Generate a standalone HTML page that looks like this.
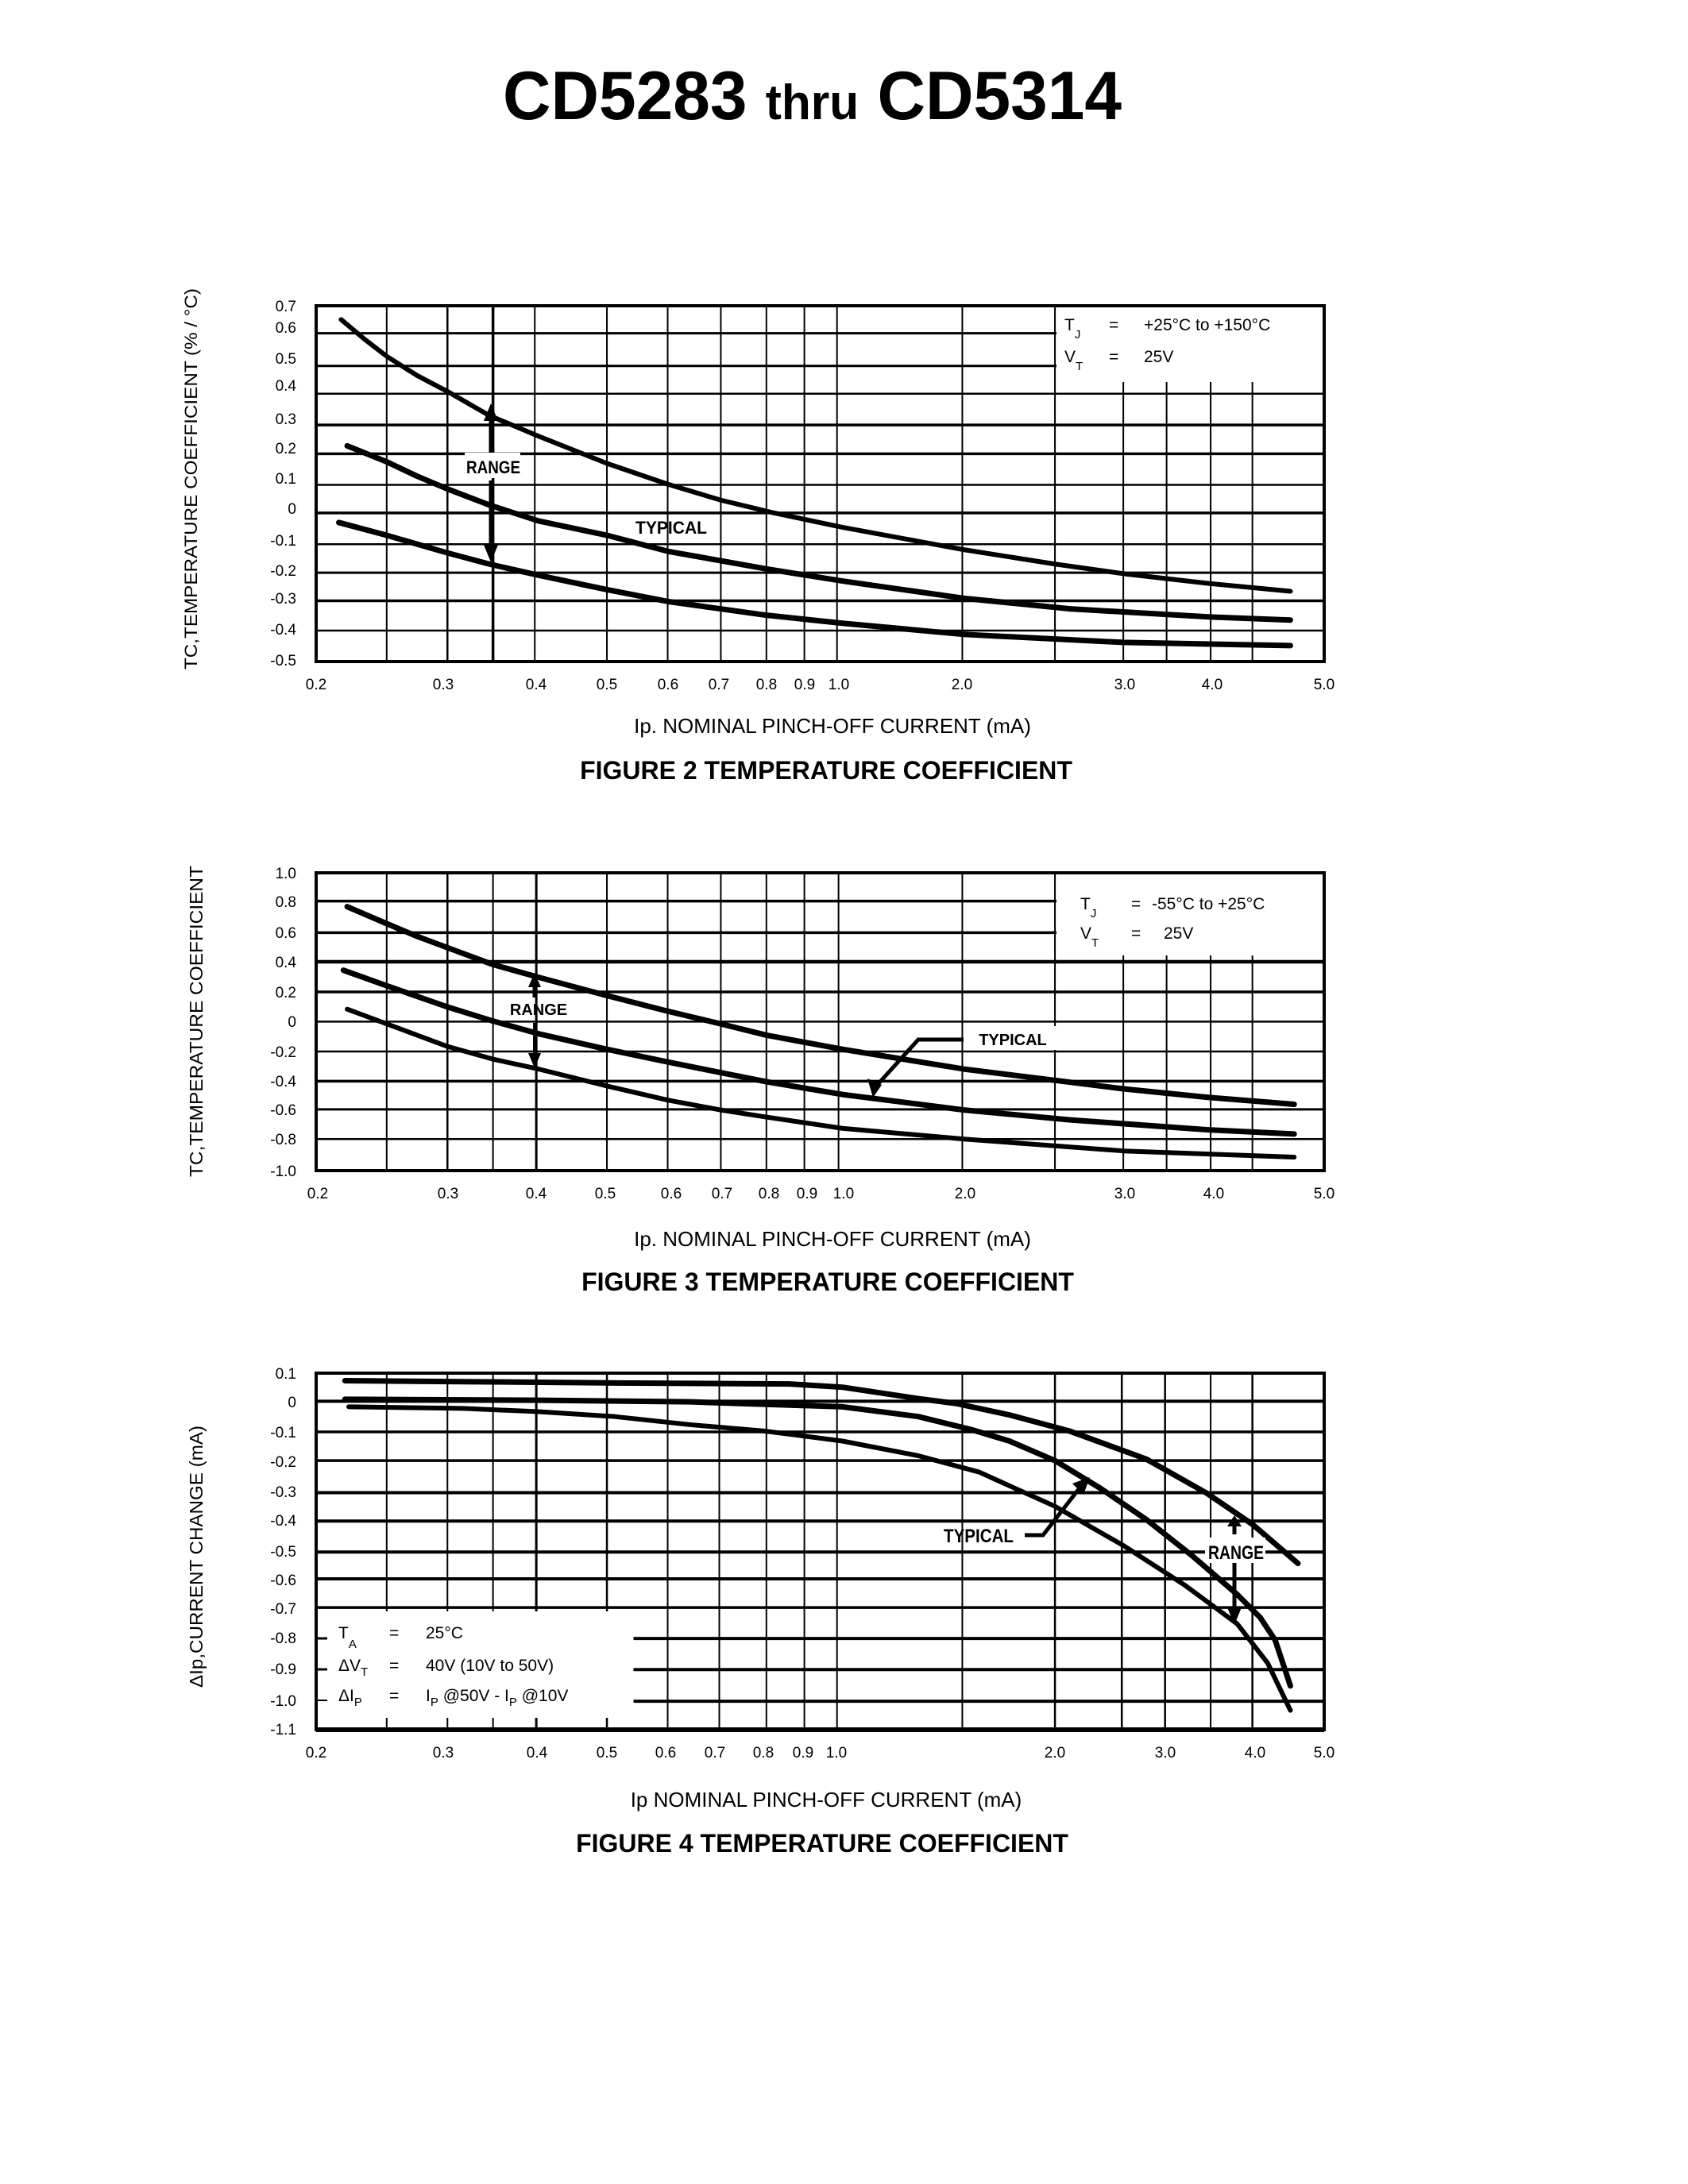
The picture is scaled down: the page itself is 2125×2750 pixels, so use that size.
<!DOCTYPE html>
<html><head><meta charset="utf-8"><style>
html,body{margin:0;padding:0;background:#fff}
svg{display:block}
text{font-family:"Liberation Sans",sans-serif;fill:#000}
.tk{font-size:19px}
.yl{font-size:19px;text-anchor:end}
.lg{font-size:21px}
.sb{font-size:15px}
.ann{font-size:22px;font-weight:bold}
.cap{font-size:32px;font-weight:bold;text-anchor:middle}
.xt{font-size:26px;text-anchor:middle}
.g line{stroke:#000;vector-effect:non-scaling-stroke}
.c{fill:none;stroke:#000;stroke-linejoin:round;stroke-linecap:round;vector-effect:non-scaling-stroke}
</style></head><body>
<svg width="2125" height="2750" viewBox="0 0 2125 2750" xmlns="http://www.w3.org/2000/svg">
<rect width="2125" height="2750" fill="#fff"/>
<text x="633" y="150" style="font-size:86px;font-weight:bold" textLength="779" lengthAdjust="spacingAndGlyphs">CD5283 <tspan style="font-size:62px">thru</tspan> CD5314</text>

<!-- FIGURE 2 -->
<g class="g" transform="translate(200,346) scale(0.956,0.4025)">
 <line x1="207" y1="183" x2="1535" y2="183" stroke-width="3"/>
 <line x1="207" y1="285" x2="1535" y2="285" stroke-width="3"/>
 <line x1="207" y1="372" x2="1535" y2="372" stroke-width="2.5"/>
 <line x1="207" y1="470" x2="1535" y2="470" stroke-width="3.5"/>
 <line x1="207" y1="560" x2="1535" y2="560" stroke-width="3.5"/>
 <line x1="207" y1="657" x2="1535" y2="657" stroke-width="2.5"/>
 <line x1="207" y1="745" x2="1535" y2="745" stroke-width="3.5"/>
 <line x1="207" y1="843" x2="1535" y2="843" stroke-width="2.5"/>
 <line x1="207" y1="932" x2="1535" y2="932" stroke-width="3"/>
 <line x1="207" y1="1020" x2="1535" y2="1020" stroke-width="3.5"/>
 <line x1="207" y1="1113" x2="1535" y2="1113" stroke-width="2.5"/>
 <line x1="300" y1="97" x2="300" y2="1210" stroke-width="2"/>
 <line x1="380" y1="97" x2="380" y2="1210" stroke-width="2.5"/>
 <line x1="440" y1="97" x2="440" y2="1210" stroke-width="3.5"/>
 <line x1="495" y1="97" x2="495" y2="1210" stroke-width="2"/>
 <line x1="590" y1="97" x2="590" y2="1210" stroke-width="2"/>
 <line x1="670" y1="97" x2="670" y2="1210" stroke-width="2"/>
 <line x1="740" y1="97" x2="740" y2="1210" stroke-width="2"/>
 <line x1="800" y1="97" x2="800" y2="1210" stroke-width="2"/>
 <line x1="850" y1="97" x2="850" y2="1210" stroke-width="2"/>
 <line x1="893" y1="97" x2="893" y2="1210" stroke-width="2"/>
 <line x1="1058" y1="97" x2="1058" y2="1210" stroke-width="2"/>
 <line x1="1180" y1="97" x2="1180" y2="1210" stroke-width="2"/>
 <line x1="1270" y1="97" x2="1270" y2="1210" stroke-width="2"/>
 <line x1="1327" y1="97" x2="1327" y2="1210" stroke-width="2"/>
 <line x1="1385" y1="97" x2="1385" y2="1210" stroke-width="2"/>
 <line x1="1440" y1="97" x2="1440" y2="1210" stroke-width="2"/>
</g>
<rect x="1330" y="387" width="335" height="94" fill="#fff"/>
<rect x="398" y="385" width="1269" height="448" fill="none" stroke="#000" stroke-width="4"/>
<g transform="translate(200,346) scale(0.956,0.4025)">
 <polyline class="c" stroke-width="6" points="240,140 270,200 300,255 340,315 380,365 435,440 500,505 590,590 670,655 740,705 810,745 900,790 1060,860 1180,905 1270,935 1380,965 1490,990"/>
 <polyline class="c" stroke-width="7" points="248,535 300,585 340,630 380,670 435,720 500,770 590,815 670,865 800,920 900,958 1060,1012 1200,1045 1380,1070 1490,1080"/>
 <polyline class="c" stroke-width="7" points="237,775 300,815 380,870 435,905 500,940 590,985 670,1022 800,1065 900,1090 1060,1125 1270,1150 1490,1160"/>
</g>
<line x1="618" y1="525" x2="618" y2="570" stroke="#000" stroke-width="5"/>
<polygon points="618,508 609,530 627,530" fill="#000"/>
<line x1="618" y1="605" x2="618" y2="690" stroke="#000" stroke-width="5"/>
<polygon points="618,708 609,686 627,686" fill="#000"/>
<rect x="585" y="570" width="70" height="32" fill="#fff"/>
<text class="ann" x="621" y="596" text-anchor="middle" textLength="68" lengthAdjust="spacingAndGlyphs">RANGE</text>
<text class="ann" x="845" y="672" text-anchor="middle" textLength="90" lengthAdjust="spacingAndGlyphs">TYPICAL</text>
<text class="lg" x="1340" y="416">T<tspan class="sb" dy="10">J</tspan><tspan dy="-10" x="1396">=</tspan><tspan x="1440">+25°C  to  +150°C</tspan></text>
<text class="lg" x="1340" y="456">V<tspan class="sb" dy="10">T</tspan><tspan dy="-10" x="1396">=</tspan><tspan x="1440">25V</tspan></text>
<g class="yl">
<text class="yl" x="373" y="392">0.7</text><text class="yl" x="373" y="419">0.6</text><text class="yl" x="373" y="458">0.5</text><text class="yl" x="373" y="492">0.4</text><text class="yl" x="373" y="534">0.3</text><text class="yl" x="373" y="571">0.2</text><text class="yl" x="373" y="609">0.1</text><text class="yl" x="373" y="647">0</text><text class="yl" x="373" y="687">-0.1</text><text class="yl" x="373" y="725">-0.2</text><text class="yl" x="373" y="760">-0.3</text><text class="yl" x="373" y="799">-0.4</text><text class="yl" x="373" y="838">-0.5</text>
</g>
<g class="tk" text-anchor="middle">
<text x="398" y="868">0.2</text><text x="558" y="868">0.3</text><text x="675" y="868">0.4</text><text x="764" y="868">0.5</text><text x="841" y="868">0.6</text><text x="905" y="868">0.7</text><text x="965" y="868">0.8</text><text x="1013" y="868">0.9</text><text x="1056" y="868">1.0</text><text x="1211" y="868">2.0</text><text x="1416" y="868">3.0</text><text x="1526" y="868">4.0</text><text x="1667" y="868">5.0</text>
</g>
<text transform="translate(248,603) rotate(-90)" text-anchor="middle" style="font-size:22px" textLength="480" lengthAdjust="spacingAndGlyphs">TC,TEMPERATURE COEFFICIENT (% / °C)</text>
<text class="xt" x="1048" y="923">Ip. NOMINAL PINCH-OFF CURRENT (mA)</text>
<text class="cap" x="1040" y="981">FIGURE 2 TEMPERATURE COEFFICIENT</text>

<!-- FIGURE 3 -->
<g class="g" transform="translate(200,1061.7) scale(0.956,0.3555)">
 <line x1="207" y1="205" x2="1535" y2="205" stroke-width="3.5"/>
 <line x1="207" y1="317" x2="1535" y2="317" stroke-width="3.5"/>
 <line x1="207" y1="420" x2="1535" y2="420" stroke-width="4.5"/>
 <line x1="207" y1="527" x2="1535" y2="527" stroke-width="3.5"/>
 <line x1="207" y1="632" x2="1535" y2="632" stroke-width="2.5"/>
 <line x1="207" y1="738" x2="1535" y2="738" stroke-width="2.5"/>
 <line x1="207" y1="843" x2="1535" y2="843" stroke-width="3.5"/>
 <line x1="207" y1="943" x2="1535" y2="943" stroke-width="3"/>
 <line x1="207" y1="1048" x2="1535" y2="1048" stroke-width="2.5"/>
 <line x1="300" y1="105" x2="300" y2="1160" stroke-width="2"/>
 <line x1="380" y1="105" x2="380" y2="1160" stroke-width="2.5"/>
 <line x1="440" y1="105" x2="440" y2="1160" stroke-width="2"/>
 <line x1="497" y1="105" x2="497" y2="1160" stroke-width="3"/>
 <line x1="590" y1="105" x2="590" y2="1160" stroke-width="2"/>
 <line x1="670" y1="105" x2="670" y2="1160" stroke-width="2"/>
 <line x1="740" y1="105" x2="740" y2="1160" stroke-width="2"/>
 <line x1="800" y1="105" x2="800" y2="1160" stroke-width="2"/>
 <line x1="850" y1="105" x2="850" y2="1160" stroke-width="2"/>
 <line x1="895" y1="105" x2="895" y2="1160" stroke-width="2"/>
 <line x1="1058" y1="105" x2="1058" y2="1160" stroke-width="2"/>
 <line x1="1180" y1="105" x2="1180" y2="1160" stroke-width="2"/>
 <line x1="1270" y1="105" x2="1270" y2="1160" stroke-width="2"/>
 <line x1="1327" y1="105" x2="1327" y2="1160" stroke-width="2"/>
 <line x1="1385" y1="105" x2="1385" y2="1160" stroke-width="2"/>
 <line x1="1440" y1="105" x2="1440" y2="1160" stroke-width="2"/>
</g>
<rect x="1330" y="1101" width="335" height="102" fill="#fff"/>
<rect x="398" y="1099" width="1269" height="375" fill="none" stroke="#000" stroke-width="4"/>
<g transform="translate(200,1061.7) scale(0.956,0.3555)">
 <polyline class="c" stroke-width="7" points="248,225 300,285 340,330 380,370 440,430 500,475 590,540 670,595 740,640 800,680 900,730 1060,800 1180,840 1270,870 1380,900 1495,925"/>
 <polyline class="c" stroke-width="7" points="243,450 300,505 380,580 440,630 500,675 590,730 670,775 800,845 900,890 1060,945 1200,980 1380,1015 1495,1030"/>
 <polyline class="c" stroke-width="6" points="248,588 300,640 380,720 440,765 500,800 590,860 670,910 740,945 800,970 900,1010 1060,1048 1270,1090 1495,1112"/>
</g>
<line x1="673" y1="1238" x2="673" y2="1256" stroke="#000" stroke-width="5"/>
<polygon points="673,1225 665,1243 681,1243" fill="#000"/>
<line x1="673" y1="1288" x2="673" y2="1330" stroke="#000" stroke-width="4"/>
<polygon points="673,1345 665,1326 681,1326" fill="#000"/>
<text x="678" y="1278" text-anchor="middle" style="font-size:20px;font-weight:bold">RANGE</text>
<polyline points="1213,1309 1156,1309 1099,1372" fill="none" stroke="#000" stroke-width="5"/>
<polygon points="1099,1382 1092,1358 1110,1366" fill="#000"/>
<rect x="1218" y="1292" width="112" height="30" fill="#fff"/>
<text x="1275" y="1316" text-anchor="middle" style="font-size:20px;font-weight:bold">TYPICAL</text>
<text class="lg" x="1360" y="1145">T<tspan class="sb" dy="10">J</tspan><tspan dy="-10" x="1424">=</tspan><tspan x="1450">-55°C  to  +25°C</tspan></text>
<text class="lg" x="1360" y="1182">V<tspan class="sb" dy="10">T</tspan><tspan dy="-10" x="1424">=</tspan><tspan x="1465">25V</tspan></text>
<g>
<text class="yl" x="373" y="1106">1.0</text><text class="yl" x="373" y="1142">0.8</text><text class="yl" x="373" y="1181">0.6</text><text class="yl" x="373" y="1218">0.4</text><text class="yl" x="373" y="1256">0.2</text><text class="yl" x="373" y="1293">0</text><text class="yl" x="373" y="1331">-0.2</text><text class="yl" x="373" y="1368">-0.4</text><text class="yl" x="373" y="1404">-0.6</text><text class="yl" x="373" y="1441">-0.8</text><text class="yl" x="373" y="1481">-1.0</text>
</g>
<g class="tk" text-anchor="middle">
<text x="400" y="1509">0.2</text><text x="564" y="1509">0.3</text><text x="675" y="1509">0.4</text><text x="762" y="1509">0.5</text><text x="845" y="1509">0.6</text><text x="909" y="1509">0.7</text><text x="968" y="1509">0.8</text><text x="1016" y="1509">0.9</text><text x="1062" y="1509">1.0</text><text x="1215" y="1509">2.0</text><text x="1416" y="1509">3.0</text><text x="1528" y="1509">4.0</text><text x="1667" y="1509">5.0</text>
</g>
<text transform="translate(255,1286) rotate(-90)" text-anchor="middle" style="font-size:23px" textLength="392" lengthAdjust="spacingAndGlyphs">TC,TEMPERATURE COEFFICIENT</text>
<text class="xt" x="1048" y="1569">Ip. NOMINAL PINCH-OFF CURRENT (mA)</text>
<text class="cap" x="1042" y="1625">FIGURE 3 TEMPERATURE COEFFICIENT</text>

<!-- FIGURE 4 -->
<g class="g" transform="translate(200,1691.2) scale(0.956,0.411)">
 <line x1="207" y1="178" x2="1535" y2="178" stroke-width="4"/>
 <line x1="207" y1="272" x2="1535" y2="272" stroke-width="3.5"/>
 <line x1="207" y1="360" x2="1535" y2="360" stroke-width="3.5"/>
 <line x1="207" y1="458" x2="1535" y2="458" stroke-width="4"/>
 <line x1="207" y1="545" x2="1535" y2="545" stroke-width="4"/>
 <line x1="207" y1="640" x2="1535" y2="640" stroke-width="4"/>
 <line x1="207" y1="722" x2="1535" y2="722" stroke-width="4"/>
 <line x1="207" y1="810" x2="1535" y2="810" stroke-width="3.5"/>
 <line x1="625" y1="905" x2="1535" y2="905" stroke-width="4"/>
 <line x1="625" y1="1000" x2="1535" y2="1000" stroke-width="4"/>
 <line x1="625" y1="1097" x2="1535" y2="1097" stroke-width="4"/>
 <line x1="300" y1="92" x2="300" y2="1185" stroke-width="2"/>
 <line x1="380" y1="92" x2="380" y2="1185" stroke-width="2"/>
 <line x1="440" y1="92" x2="440" y2="1185" stroke-width="2"/>
 <line x1="497" y1="92" x2="497" y2="1185" stroke-width="3"/>
 <line x1="590" y1="92" x2="590" y2="1185" stroke-width="2.5"/>
 <line x1="670" y1="92" x2="670" y2="1185" stroke-width="2"/>
 <line x1="738" y1="92" x2="738" y2="1185" stroke-width="2"/>
 <line x1="800" y1="92" x2="800" y2="1185" stroke-width="2"/>
 <line x1="850" y1="92" x2="850" y2="1185" stroke-width="2"/>
 <line x1="893" y1="92" x2="893" y2="1185" stroke-width="2"/>
 <line x1="1058" y1="92" x2="1058" y2="1185" stroke-width="2"/>
 <line x1="1180" y1="92" x2="1180" y2="1185" stroke-width="2.5"/>
 <line x1="1268" y1="92" x2="1268" y2="1185" stroke-width="2.5"/>
 <line x1="1325" y1="92" x2="1325" y2="1185" stroke-width="2.5"/>
 <line x1="1385" y1="92" x2="1385" y2="1185" stroke-width="2"/>
 <line x1="1440" y1="92" x2="1440" y2="1185" stroke-width="2.5"/>
</g>
<rect x="400" y="2029" width="394" height="134" fill="#fff"/>
<line x1="398" y1="2063" x2="412" y2="2063" stroke="#000" stroke-width="3"/>
<line x1="398" y1="2102" x2="412" y2="2102" stroke="#000" stroke-width="3"/>
<line x1="398" y1="2141" x2="412" y2="2141" stroke="#000" stroke-width="2"/>
<rect x="398" y="1729" width="1269" height="449" fill="none" stroke="#000" stroke-width="4"/>
<line x1="398" y1="2178" x2="1667" y2="2178" stroke="#000" stroke-width="6"/>
<g transform="translate(200,1691.2) scale(0.956,0.411)">
 <polyline class="c" stroke-width="7" points="245,115 400,118 600,122 830,125 900,135 1000,170 1050,185 1120,220 1200,270 1300,355 1380,460 1440,555 1500,675"/>
 <polyline class="c" stroke-width="7" points="245,172 500,175 700,180 900,195 1000,225 1070,265 1120,300 1180,360 1240,445 1300,540 1360,650 1420,770 1450,840 1470,910 1490,1050"/>
 <polyline class="c" stroke-width="6" points="250,195 400,200 500,210 600,225 700,250 800,270 900,300 1000,345 1080,395 1180,500 1270,620 1350,740 1420,860 1460,980 1490,1125"/>
</g>
<text x="1232" y="1942" text-anchor="middle" style="font-size:24px;font-weight:bold" textLength="88" lengthAdjust="spacingAndGlyphs">TYPICAL</text>
<polyline points="1290,1933 1313,1933 1358,1875" fill="none" stroke="#000" stroke-width="5"/>
<polygon points="1372,1860 1350,1868 1364,1882" fill="#000"/>
<line x1="1554" y1="1918" x2="1554" y2="1932" stroke="#000" stroke-width="5"/>
<polygon points="1554,1908 1545,1922 1563,1922" fill="#000"/>
<rect x="1517" y="1936" width="76" height="32" fill="#fff"/>
<text x="1556" y="1963" text-anchor="middle" style="font-size:24px;font-weight:bold" textLength="70" lengthAdjust="spacingAndGlyphs">RANGE</text>
<line x1="1554" y1="1968" x2="1554" y2="2030" stroke="#000" stroke-width="5"/>
<polygon points="1554,2046 1545,2024 1563,2024" fill="#000"/>
<text class="lg" x="426" y="2063">T<tspan class="sb" dy="12">A</tspan><tspan dy="-12" x="490">=</tspan><tspan x="536">25°C</tspan></text>
<text class="lg" x="426" y="2104">ΔV<tspan class="sb" dy="6">T</tspan><tspan dy="-6" x="490">=</tspan><tspan x="536">40V  (10V  to  50V)</tspan></text>
<text class="lg" x="426" y="2142">ΔI<tspan class="sb" dy="6">P</tspan><tspan dy="-6" x="490">=</tspan><tspan x="536">I</tspan><tspan class="sb" dy="6">P</tspan><tspan dy="-6"> @50V  -  I</tspan><tspan class="sb" dy="6">P</tspan><tspan dy="-6"> @10V</tspan></text>
<g>
<text class="yl" x="373" y="1736">0.1</text><text class="yl" x="373" y="1772">0</text><text class="yl" x="373" y="1810">-0.1</text><text class="yl" x="373" y="1847">-0.2</text><text class="yl" x="373" y="1885">-0.3</text><text class="yl" x="373" y="1921">-0.4</text><text class="yl" x="373" y="1960">-0.5</text><text class="yl" x="373" y="1996">-0.6</text><text class="yl" x="373" y="2032">-0.7</text><text class="yl" x="373" y="2069">-0.8</text><text class="yl" x="373" y="2108">-0.9</text><text class="yl" x="373" y="2148">-1.0</text><text class="yl" x="373" y="2184">-1.1</text>
</g>
<g class="tk" text-anchor="middle">
<text x="398" y="2213">0.2</text><text x="558" y="2213">0.3</text><text x="676" y="2213">0.4</text><text x="764" y="2213">0.5</text><text x="838" y="2213">0.6</text><text x="900" y="2213">0.7</text><text x="961" y="2213">0.8</text><text x="1011" y="2213">0.9</text><text x="1053" y="2213">1.0</text><text x="1328" y="2213">2.0</text><text x="1467" y="2213">3.0</text><text x="1580" y="2213">4.0</text><text x="1667" y="2213">5.0</text>
</g>
<text transform="translate(255,1960) rotate(-90)" text-anchor="middle" style="font-size:23px" textLength="330" lengthAdjust="spacingAndGlyphs">ΔIp,CURRENT CHANGE (mA)</text>
<text class="xt" x="1040" y="2275">Ip NOMINAL PINCH-OFF CURRENT (mA)</text>
<text class="cap" x="1035" y="2332">FIGURE 4 TEMPERATURE COEFFICIENT</text>
</svg>
</body></html>
